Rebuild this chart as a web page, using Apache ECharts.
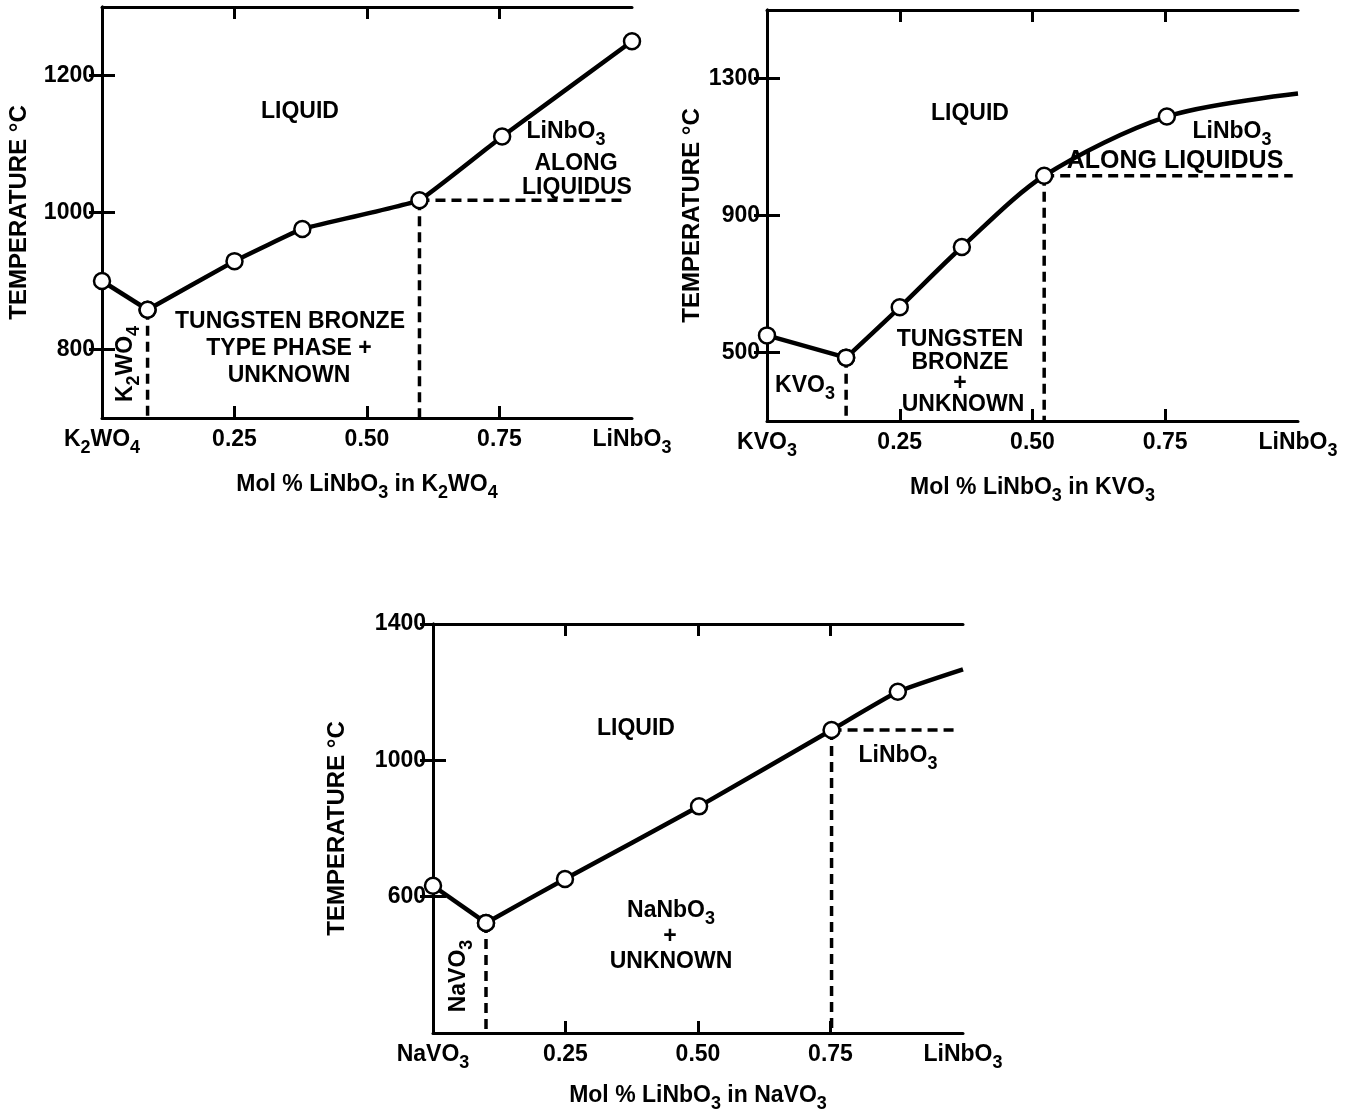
<!DOCTYPE html>
<html><head><meta charset="utf-8">
<script src="https://cdn.jsdelivr.net/npm/echarts@6/dist/echarts.min.js"></script>
<style>html,body{margin:0;padding:0;background:#fff}#c{width:1352px;height:1114px}</style>
</head><body><div id="c"></div>
<script>
// ---------- shared ticks ----------
const xLabelValues = [0, 0.25, 0.5, 0.75, 1];
const xInnerTicks = [0.25, 0.5, 0.75];

// ---------- Panel 1: LiNbO3 in K2WO4 ----------
const k2wo4XLabels = ['{n|K}{s|2}{n|WO}{s|4}', '{n|0.25}', '{n|0.50}', '{n|0.75}', '{n|LiNbO}{s|3}'];
const k2wo4YTicks = [800, 1000, 1200];
const k2wo4YRange = [700, 1300];
const k2wo4Left = [[0, 900], [0.086, 858]];
const k2wo4Liquidus = [[0.086, 858], [0.25, 929], [0.378, 976], [0.599, 1018], [0.755, 1111], [1.0, 1250]];
const k2wo4DashEutectic = [[0.086, 858], [0.086, 700]];
const k2wo4DashPeritecticV = [[0.599, 1018], [0.599, 700]];
const k2wo4DashPeritecticH = [[0.599, 1018], [0.99, 1018]];

// ---------- Panel 2: LiNbO3 in KVO3 ----------
const kvo3XLabels = ['{n|KVO}{s|3}', '{n|0.25}', '{n|0.50}', '{n|0.75}', '{n|LiNbO}{s|3}'];
const kvo3YTicks = [500, 900, 1300];
const kvo3YRange = [300, 1500];
const kvo3Left = [[0, 550], [0.149, 485]];
const kvo3Liquidus = [[0.149, 485], [0.25, 632], [0.367, 808], [0.522, 1016], [0.753, 1189]];
const kvo3LiquidusEnd = [1.0, 1256];
const kvo3DashEutectic = [[0.149, 485], [0.149, 300]];
const kvo3DashPeritecticV = [[0.522, 1016], [0.522, 300]];
const kvo3DashPeritecticH = [[0.522, 1016], [0.99, 1016]];

// ---------- Panel 3: LiNbO3 in NaVO3 ----------
const navo3XLabels = ['{n|NaVO}{s|3}', '{n|0.25}', '{n|0.50}', '{n|0.75}', '{n|LiNbO}{s|3}'];
const navo3YTicks = [600, 1000, 1400];
const navo3YRange = [200, 1400];
const navo3Left = [[0, 632], [0.1, 523]];
const navo3Liquidus = [[0.1, 523], [0.249, 652], [0.502, 865], [0.752, 1089], [0.877, 1201]];
const navo3LiquidusEnd = [1.0, 1267];
const navo3DashEutectic = [[0.1, 523], [0.1, 200]];
const navo3DashPeritecticV = [[0.752, 1089], [0.752, 200]];
const navo3DashPeritecticH = [[0.752, 1089], [0.99, 1089]];

// ---------- styling ----------
const FF = '"Liberation Sans", Arial, sans-serif';
function rich(size, sub, lh) {
  return {
    n: {fontSize: size, fontWeight: 'bold', fontFamily: FF, color: '#000', lineHeight: lh},
    s: {fontSize: sub, fontWeight: 'bold', fontFamily: FF, color: '#000', lineHeight: sub, verticalAlign: 'bottom'}
  };
}
const richLab = rich(23, 18, 34);
const richName = rich(23, 18, 34);
const richWide = rich(25, 19, 34);
const AX = {color: '#000', width: 3};

const panels = [
  {grid: {left: 102, top: 7, width: 530, height: 411}, xl: k2wo4XLabels, yt: k2wo4YTicks, yr: k2wo4YRange,
   xname: '{n|Mol % LiNbO}{s|3}{n| in K}{s|2}{n|WO}{s|4}', xgap: 50, ygap: 71, smooth: 0.08,
   left: k2wo4Left, liq: k2wo4Liquidus, end: null, dash: [k2wo4DashEutectic, k2wo4DashPeritecticV, k2wo4DashPeritecticH]},
  {grid: {left: 767, top: 10, width: 531, height: 411}, xl: kvo3XLabels, yt: kvo3YTicks, yr: kvo3YRange,
   xname: '{n|Mol % LiNbO}{s|3}{n| in KVO}{s|3}', xgap: 50, ygap: 63, smooth: 0.3,
   left: kvo3Left, liq: kvo3Liquidus, end: kvo3LiquidusEnd, dash: [kvo3DashEutectic, kvo3DashPeritecticV, kvo3DashPeritecticH]},
  {grid: {left: 433, top: 624, width: 530, height: 409}, xl: navo3XLabels, yt: navo3YTicks, yr: navo3YRange,
   xname: '{n|Mol % LiNbO}{s|3}{n| in NaVO}{s|3}', xgap: 46, ygap: 84, smooth: 0.15,
   left: navo3Left, liq: navo3Liquidus, end: navo3LiquidusEnd, dash: [navo3DashEutectic, navo3DashPeritecticV, navo3DashPeritecticH]}
];

const grid = [], xAxis = [], yAxis = [], series = [];
panels.forEach((p, i) => {
  grid.push(Object.assign({containLabel: false}, p.grid));
  xAxis.push({
    gridIndex: i, type: 'value', min: 0, max: 1, interval: 0.25, position: 'bottom',
    axisLine: {show: true, lineStyle: AX},
    axisTick: {show: true, inside: true, length: 12, lineStyle: AX, customValues: xInnerTicks},
    axisLabel: {show: true, customValues: xLabelValues, margin: 5, rich: richLab,
      formatter: v => p.xl[xLabelValues.indexOf(v)]},
    splitLine: {show: false},
    name: p.xname, nameLocation: 'middle', nameGap: p.xgap, nameTextStyle: {rich: richName}
  });
  xAxis.push({
    gridIndex: i, type: 'value', min: 0, max: 1, interval: 0.25, position: 'top',
    axisLine: {show: true, lineStyle: AX},
    axisTick: {show: true, inside: true, length: 12, lineStyle: AX, customValues: xInnerTicks},
    axisLabel: {show: false}, splitLine: {show: false}
  });
  yAxis.push({
    gridIndex: i, type: 'value', min: p.yr[0], max: p.yr[1], position: 'left',
    axisLine: {show: true, lineStyle: AX},
    axisTick: {show: true, inside: true, length: 13, lineStyle: AX, customValues: p.yt},
    axisLabel: {show: true, customValues: p.yt, margin: 7, color: '#000', fontSize: 23, fontWeight: 'bold', fontFamily: FF,
      formatter: v => String(v)},
    splitLine: {show: false},
    name: 'TEMPERATURE °C', nameLocation: 'middle', nameRotate: 90, nameGap: p.ygap,
    nameTextStyle: {fontSize: 24, fontWeight: 'bold', fontFamily: FF, color: '#000'}
  });
  yAxis.push({
    gridIndex: i, type: 'value', min: p.yr[0], max: p.yr[1], position: 'right',
    axisLine: {show: true, lineStyle: AX},
    axisTick: {show: true, inside: true, length: 13, lineStyle: AX, customValues: p.yt},
    axisLabel: {show: false}, splitLine: {show: false}
  });
  const xi = 2 * i, yi = 2 * i;
  p.dash.forEach(d => series.push({
    type: 'line', xAxisIndex: xi, yAxisIndex: yi, data: d, symbol: 'none', z: 2, silent: true,
    lineStyle: {color: '#000', width: 3.5, type: [10, 6]}
  }));
  const mark = {symbol: 'circle', symbolSize: 16, itemStyle: {color: '#fff', borderColor: '#000', borderWidth: 2.5}};
  series.push(Object.assign({
    type: 'line', xAxisIndex: xi, yAxisIndex: yi, data: p.left, z: 4, silent: true,
    lineStyle: {color: '#000', width: 4.5}
  }, mark));
  const liqData = p.liq.slice();
  if (p.end) liqData.push({value: p.end, symbol: 'none'});
  series.push(Object.assign({
    type: 'line', xAxisIndex: xi, yAxisIndex: yi, data: liqData, z: 5, silent: true, smooth: p.smooth,
    lineStyle: {color: '#000', width: 4.5}
  }, mark));
});

function t(x, y, text, extra, r) {
  return Object.assign({
    type: 'text', x: x, y: y, z: 10, silent: true,
    style: {text: text, rich: r || richLab, align: 'center', verticalAlign: 'middle', fill: '#000',
      fontSize: 23, fontWeight: 'bold', fontFamily: FF}
  }, extra || {});
}
const rot = {rotation: Math.PI / 2};
const graphic = [
  // panel 1
  t(300, 112, '{n|LIQUID}'),
  t(566, 132, '{n|LiNbO}{s|3}'),
  t(576, 164, '{n|ALONG}'),
  t(577, 188, '{n|LIQUIDUS}'),
  t(290, 322, '{n|TUNGSTEN BRONZE}'),
  t(289, 349, '{n|TYPE PHASE +}'),
  t(289, 376, '{n|UNKNOWN}'),
  t(126, 364, '{n|K}{s|2}{n|WO}{s|4}', rot),
  // panel 2
  t(970, 114, '{n|LIQUID}'),
  t(1232, 132, '{n|LiNbO}{s|3}'),
  t(1175, 161, '{n|ALONG LIQUIDUS}', null, richWide),
  t(960, 340, '{n|TUNGSTEN}'),
  t(960, 363, '{n|BRONZE}'),
  t(960, 384, '{n|+}'),
  t(963, 405, '{n|UNKNOWN}'),
  t(805, 386, '{n|KVO}{s|3}'),
  // panel 3
  t(636, 729, '{n|LIQUID}'),
  t(898, 756, '{n|LiNbO}{s|3}'),
  t(671, 911, '{n|NaNbO}{s|3}'),
  t(670, 937, '{n|+}'),
  t(671, 962, '{n|UNKNOWN}'),
  t(459, 976, '{n|NaVO}{s|3}', rot)
];

const chart = echarts.init(document.getElementById('c'), null, {renderer: 'canvas'});
chart.setOption({animation: false, backgroundColor: '#fff', grid, xAxis, yAxis, series, graphic});
</script></body></html>
